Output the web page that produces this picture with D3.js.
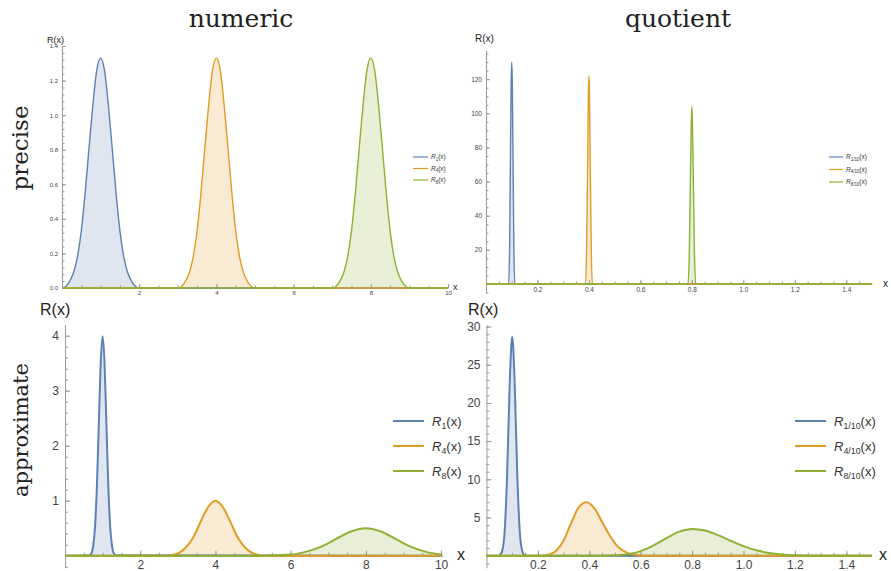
<!DOCTYPE html>
<html>
<head>
<meta charset="utf-8">
<script src="https://cdn.jsdelivr.net/npm/d3@7"></script>
<style>
  body { margin: 0; background: #fff; }
  svg { display: block; }
  .tick text { fill: #444; font-family: "Liberation Sans", Arial, sans-serif; }
  .tick line, .domain { stroke: #999; }
</style>
</head>
<body>
<div id="container"></div>
<script>
const seriesColors = ["#5e81b5", "#e19c24", "#8fb032"];

// precise / numeric
const precNumX1 = [0, 0.1, 0.2, 0.3, 0.4, 0.5, 0.6, 0.7, 0.8, 0.9, 1.0, 1.1, 1.2, 1.3, 1.4, 1.5, 1.6, 1.7, 1.8, 1.9, 2.0, 10];
const precNumY1 = [0, 0.01, 0.04, 0.09, 0.18, 0.33, 0.55, 0.81, 1.06, 1.26, 1.33, 1.26, 1.06, 0.81, 0.55, 0.33, 0.18, 0.09, 0.04, 0.01, 0, 0];
const precNumX4 = [0, 3.0, 3.1, 3.2, 3.3, 3.4, 3.5, 3.6, 3.7, 3.8, 3.9, 4.0, 4.1, 4.2, 4.3, 4.4, 4.5, 4.6, 4.7, 4.8, 4.9, 5.0, 10];
const precNumY4 = [0, 0, 0.01, 0.04, 0.09, 0.18, 0.33, 0.55, 0.81, 1.06, 1.26, 1.33, 1.26, 1.06, 0.81, 0.55, 0.33, 0.18, 0.09, 0.04, 0.01, 0, 0];
const precNumX8 = [0, 7.0, 7.1, 7.2, 7.3, 7.4, 7.5, 7.6, 7.7, 7.8, 7.9, 8.0, 8.1, 8.2, 8.3, 8.4, 8.5, 8.6, 8.7, 8.8, 8.9, 9.0, 10];
const precNumY8 = [0, 0, 0.01, 0.04, 0.09, 0.18, 0.33, 0.55, 0.81, 1.06, 1.26, 1.33, 1.26, 1.06, 0.81, 0.55, 0.33, 0.18, 0.09, 0.04, 0.01, 0, 0];

// precise / quotient
const precQuoX1 = [0, 0.088, 0.092, 0.095, 0.098, 0.1, 0.102, 0.105, 0.108, 0.112, 1.5];
const precQuoY1 = [0, 0, 25, 75, 120, 130, 120, 75, 25, 0, 0];
const precQuoX4 = [0, 0.387, 0.391, 0.395, 0.398, 0.4, 0.402, 0.405, 0.409, 0.413, 1.5];
const precQuoY4 = [0, 0, 22, 70, 112, 122, 112, 70, 22, 0, 0];
const precQuoX8 = [0, 0.785, 0.79, 0.794, 0.798, 0.8, 0.802, 0.806, 0.81, 0.815, 1.5];
const precQuoY8 = [0, 0, 18, 58, 95, 104, 95, 58, 18, 0, 0];

// approximate / numeric
const apprNumX1 = [0, 0.65, 0.7, 0.75, 0.8, 0.85, 0.9, 0.95, 1.0, 1.05, 1.1, 1.15, 1.2, 1.25, 1.3, 1.35, 10];
const apprNumY1 = [0, 0.01, 0.04, 0.18, 0.54, 1.30, 2.42, 3.52, 3.99, 3.52, 2.42, 1.30, 0.54, 0.18, 0.04, 0.01, 0];
const apprNumX4 = [0, 2.6, 2.8, 3.0, 3.2, 3.4, 3.6, 3.8, 4.0, 4.2, 4.4, 4.6, 4.8, 5.0, 5.2, 5.4, 10];
const apprNumY4 = [0, 0, 0.01, 0.04, 0.14, 0.32, 0.61, 0.88, 1.0, 0.88, 0.61, 0.32, 0.14, 0.04, 0.01, 0, 0];
const apprNumX8 = [0, 5.2, 5.6, 6.0, 6.4, 6.8, 7.2, 7.6, 8.0, 8.4, 8.8, 9.2, 9.6, 10.0];
const apprNumY8 = [0, 0, 0.01, 0.02, 0.07, 0.16, 0.30, 0.44, 0.50, 0.44, 0.30, 0.16, 0.07, 0.02];

// approximate / quotient
const apprQuoX1 = [0, 0.05, 0.06, 0.07, 0.08, 0.09, 0.10, 0.11, 0.12, 0.13, 0.14, 0.15, 1.5];
const apprQuoY1 = [0, 0, 0.5, 2.9, 10.3, 22.2, 28.7, 22.2, 10.3, 2.9, 0.5, 0, 0];
const apprQuoX4 = [0, 0.21, 0.24, 0.27, 0.30, 0.33, 0.36, 0.39, 0.42, 0.45, 0.48, 0.51, 0.54, 0.57, 0.60, 0.63, 1.5];
const apprQuoY4 = [0, 0, 0.1, 0.6, 2.0, 4.3, 6.4, 7.0, 6.2, 4.4, 2.6, 1.2, 0.5, 0.15, 0.03, 0, 0];
const apprQuoX8 = [0, 0.45, 0.50, 0.55, 0.60, 0.65, 0.70, 0.75, 0.80, 0.85, 0.90, 0.95, 1.00, 1.05, 1.10, 1.15, 1.20, 1.25, 1.5];
const apprQuoY8 = [0, 0, 0.05, 0.2, 0.6, 1.35, 2.3, 3.15, 3.5, 3.3, 2.7, 1.95, 1.25, 0.7, 0.35, 0.15, 0.05, 0, 0];

// ticks
const numXTicks = [2, 4, 6, 8, 10];
const numXMinor = d3.range(0.5, 10.01, 0.5);
const quoXTicks = [0.2, 0.4, 0.6, 0.8, 1.0, 1.2, 1.4];
const quoXMinor = d3.range(0.05, 1.5, 0.05);
const precNumYTicks = [0, 0.2, 0.4, 0.6, 0.8, 1.0, 1.2, 1.4];
const precNumYMinor = d3.range(0.04, 1.4, 0.04);
const precQuoYTicks = [20, 40, 60, 80, 100, 120];
const precQuoYMinor = d3.range(-5, 136, 5);
const apprNumYTicks = [1, 2, 3, 4];
const apprNumYMinor = d3.range(-0.2, 4.1, 0.2);
const apprQuoYTicks = [5, 10, 15, 20, 25, 30];
const apprQuoYMinor = d3.range(-1, 30.1, 1);

const numSubs = ["1", "4", "8"];
const quoSubs = ["1/10", "4/10", "8/10"];

const svg = d3.select("#container").append("svg")
  .attr("width", 891).attr("height", 571);
svg.append("rect").attr("width", 891).attr("height", 571).attr("fill", "#fff");

function drawPanel(p) {
  const g = svg.append("g");
  const x = d3.scaleLinear().domain(p.xDomain).range(p.xRange);
  const y = d3.scaleLinear().domain(p.yDomain).range(p.yRange);
  const y0 = y(0);

  // minor ticks
  g.append("g").attr("transform", `translate(0,${y0})`)
    .call(d3.axisBottom(x).tickValues(p.xMinor).tickSize(-p.minorLen).tickFormat(""))
    .call(a => a.select(".domain").remove());
  g.append("g").attr("transform", `translate(${x(0)},0)`)
    .call(d3.axisLeft(y).tickValues(p.yMinor).tickSize(-p.minorLen).tickFormat(""))
    .call(a => a.select(".domain").remove());

  // major ticks
  const xa = g.append("g").attr("transform", `translate(0,${y0})`)
    .call(d3.axisBottom(x).tickValues(p.xTicks).tickSize(-p.majorLen).tickSizeOuter(0)
      .tickPadding(p.xPad).tickFormat(p.xFormat));
  xa.selectAll("text").style("font-size", p.fs + "px");
  const ya = g.append("g").attr("transform", `translate(${x(0)},0)`)
    .call(d3.axisLeft(y).tickValues(p.yTicks).tickSize(-p.majorLen).tickSizeOuter(0)
      .tickPadding(p.yPad).tickFormat(p.yFormat));
  ya.selectAll("text").style("font-size", p.fs + "px");
  g.selectAll(".domain").attr("stroke", "#999");
  g.selectAll(".tick line").attr("stroke", "#999");

  // curves
  p.series.forEach((s, i) => {
    const pts = s.xs.map((v, k) => [v, s.ys[k]]);
    g.append("path").datum(pts)
      .attr("fill", seriesColors[i]).attr("fill-opacity", 0.2)
      .attr("d", d3.area().x(d => x(d[0])).y0(y0).y1(d => y(d[1])).curve(d3.curveMonotoneX));
  });
  p.series.forEach((s, i) => {
    const pts = s.xs.map((v, k) => [v, s.ys[k]]);
    g.append("path").datum(pts)
      .attr("fill", "none").attr("stroke", seriesColors[i]).attr("stroke-width", p.lw)
      .attr("stroke-linejoin", "round")
      .attr("d", d3.line().x(d => x(d[0])).y(d => y(d[1])).curve(d3.curveMonotoneX));
  });

  // axis labels
  g.append("text").attr("x", p.yLab[0]).attr("y", p.yLab[1])
    .attr("font-family", "Liberation Sans, Arial, sans-serif").attr("font-size", p.labFs)
    .attr("fill", "#222").text("R(x)");
  g.append("text").attr("x", p.xLab[0]).attr("y", p.xLab[1])
    .attr("font-family", "Liberation Sans, Arial, sans-serif").attr("font-size", p.labFs)
    .attr("fill", "#222").attr("dominant-baseline", "middle").text("x");

  // legend
  const L = p.legend;
  p.subs.forEach((sub, i) => {
    const ly = L.y + i * L.dy;
    g.append("line").attr("x1", L.x).attr("x2", L.x + L.len).attr("y1", ly).attr("y2", ly)
      .attr("stroke", seriesColors[i]).attr("stroke-width", L.lw);
    const t = g.append("text").attr("x", L.x + L.len + L.gap).attr("y", ly)
      .attr("dy", "0.35em").attr("font-family", "Liberation Sans, Arial, sans-serif")
      .attr("font-size", L.fs).attr("fill", "#333");
    t.append("tspan").attr("font-style", "italic").text("R");
    t.append("tspan").attr("font-size", L.fs * 0.68).attr("dy", L.fs * 0.25).text(sub);
    t.append("tspan").attr("dy", -L.fs * 0.25).text("(x)");
  });
}

const f1 = d3.format(".1f");

drawPanel({
  xDomain: [0, 10], xRange: [62, 448],
  yDomain: [0, 1.4], yRange: [288, 46],
  xTicks: numXTicks, xMinor: numXMinor, yTicks: precNumYTicks, yMinor: precNumYMinor,
  xFormat: d3.format("d"), yFormat: f1, fs: 6, xPad: 3, yPad: 4, majorLen: 4, minorLen: 2.5,
  lw: 1.4, labFs: 9, yLab: [47, 43], xLab: [453, 288],
  series: [{xs: precNumX1, ys: precNumY1}, {xs: precNumX4, ys: precNumY4}, {xs: precNumX8, ys: precNumY8}],
  subs: numSubs,
  legend: {x: 413, y: 157, dy: 11.5, len: 15, gap: 3, fs: 6.5, lw: 1.2}
});

drawPanel({
  xDomain: [0, 1.5], xRange: [486, 872],
  yDomain: [-5.3, 137], yRange: [293, 50.2],
  xTicks: quoXTicks, xMinor: quoXMinor, yTicks: precQuoYTicks, yMinor: precQuoYMinor,
  xFormat: f1, yFormat: d3.format("d"), fs: 6.5, xPad: 3, yPad: 4, majorLen: 4, minorLen: 2.5,
  lw: 1.4, labFs: 10, yLab: [475, 42], xLab: [883, 284],
  series: [{xs: precQuoX1, ys: precQuoY1}, {xs: precQuoX4, ys: precQuoY4}, {xs: precQuoX8, ys: precQuoY8}],
  subs: quoSubs,
  legend: {x: 829, y: 157, dy: 12.5, len: 14, gap: 3, fs: 6.5, lw: 1.2}
});

drawPanel({
  xDomain: [0, 10.05], xRange: [65, 443],
  yDomain: [-0.22, 4.2], yRange: [567.8, 324.7],
  xTicks: numXTicks, xMinor: numXMinor, yTicks: apprNumYTicks, yMinor: apprNumYMinor,
  xFormat: d3.format("d"), yFormat: d3.format("d"), fs: 12, xPad: 5, yPad: 6, majorLen: 5, minorLen: 3,
  lw: 2, labFs: 16, yLab: [40, 315], xLab: [457, 556],
  series: [{xs: apprNumX1, ys: apprNumY1}, {xs: apprNumX4, ys: apprNumY4}, {xs: apprNumX8, ys: apprNumY8}],
  subs: numSubs,
  legend: {x: 393, y: 421, dy: 25, len: 31, gap: 8, fs: 13, lw: 2}
});

drawPanel({
  xDomain: [0, 1.48], xRange: [486.5, 866.9],
  yDomain: [-1.6, 30.2], yRange: [567.9, 325],
  xTicks: quoXTicks, xMinor: quoXMinor, yTicks: apprQuoYTicks, yMinor: apprQuoYMinor,
  xFormat: f1, yFormat: d3.format("d"), fs: 12, xPad: 5, yPad: 6, majorLen: 5, minorLen: 3,
  lw: 2, labFs: 16, yLab: [468, 315], xLab: [879, 556],
  series: [{xs: apprQuoX1, ys: apprQuoY1}, {xs: apprQuoX4, ys: apprQuoY4}, {xs: apprQuoX8, ys: apprQuoY8}],
  subs: quoSubs,
  legend: {x: 795, y: 421, dy: 25, len: 31, gap: 8, fs: 13, lw: 2}
});

// titles
const serif = "DejaVu Serif, Liberation Serif, serif";
svg.append("text").attr("x", 241).attr("y", 27).attr("text-anchor", "middle")
  .attr("font-family", serif).attr("font-size", 25).attr("fill", "#222").text("numeric");
svg.append("text").attr("x", 678).attr("y", 27).attr("text-anchor", "middle")
  .attr("font-family", serif).attr("font-size", 25).attr("fill", "#222").text("quotient");
svg.append("text").attr("transform", "translate(28,148) rotate(-90)").attr("text-anchor", "middle")
  .attr("font-family", serif).attr("font-size", 23).attr("fill", "#222").text("precise");
svg.append("text").attr("transform", "translate(28,430) rotate(-90)").attr("text-anchor", "middle")
  .attr("font-family", serif).attr("font-size", 21).attr("fill", "#222").text("approximate");
</script>
</body>
</html>
